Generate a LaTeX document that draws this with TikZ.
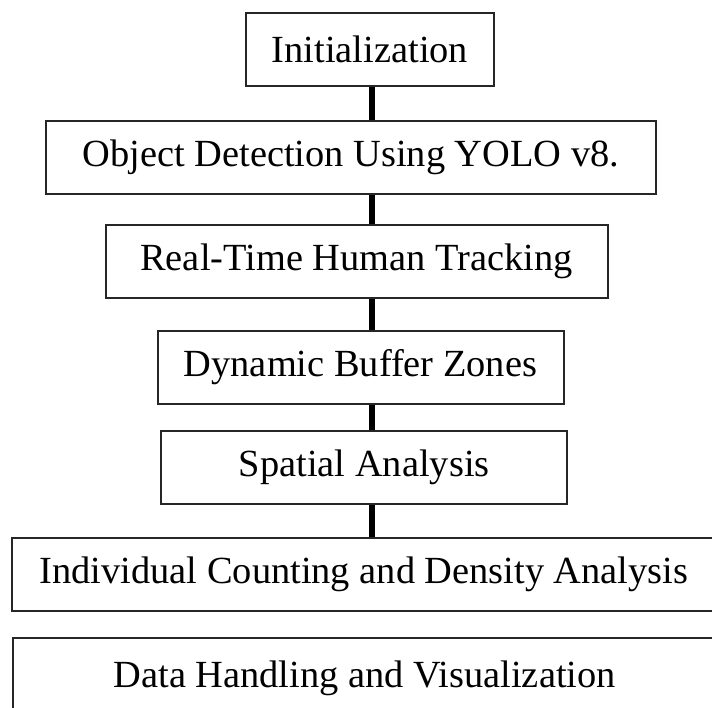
\documentclass[tikz,border=0pt]{standalone}
\usepackage{fontspec}
\setmainfont{Liberation Serif}
\usetikzlibrary{positioning, calc}

\begin{document}
\begin{tikzpicture}[x=0.5pt,y=-0.5pt,
  stage/.style={draw=black!85,line width=1pt,minimum height=36.5pt,inner sep=0pt,
    font=\fontsize{19.2}{23}\selectfont},
  link/.style={line width=2.8pt,black}]

% --- Cornice
\useasboundingbox (0,0) rectangle (712,707);
\clip (0,0) rectangle (712,707);

% --- Blocchi
\node[stage,minimum width=124pt] (init)    at (370,49.7)   {Initialization};
\node[stage,minimum width=305pt] (detect)  at (350.9,157.2) {Object Detection Using YOLO v8.};
\node[stage,minimum width=251pt] (track)   at (356.5,261.2) {Real-Time Human Tracking};
\node[stage,minimum width=203pt] (buffer)  at (360.5,367)   {Dynamic Buffer Zones};
\node[stage,minimum width=203pt] (spatial) at (364.3,467.4) {Spatial Analysis};
\node[stage,minimum width=352pt] (count)   at (364,574.7)   {Individual Counting and Density Analysis};
\node[stage,minimum width=352pt,minimum height=40pt] (data) at (364.7,678) {Data Handling and Visualization};

% --- Collegamenti
\coordinate (spine) at (372,0);
\draw[link] (init.south -| spine)    -- (detect.north -| spine);
\draw[link] (detect.south -| spine)  -- (track.north -| spine);
\draw[link] (track.south -| spine)   -- (buffer.north -| spine);
\draw[link] (buffer.south -| spine)  -- (spatial.north -| spine);
\draw[link] (spatial.south -| spine) -- (count.north -| spine);

\end{tikzpicture}
\end{document}
